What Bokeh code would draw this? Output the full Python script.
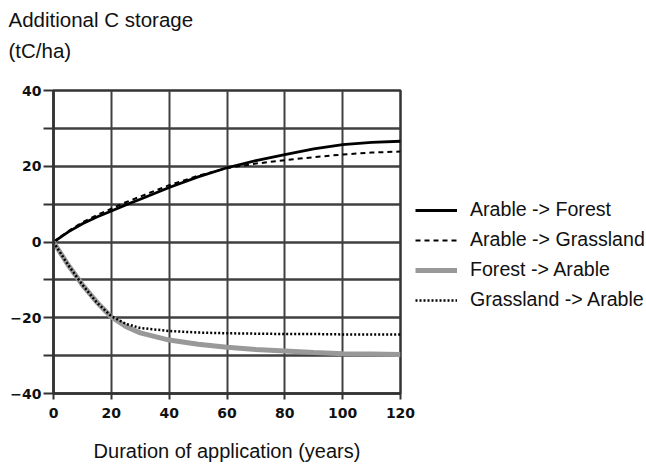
from bokeh.plotting import figure
from bokeh.models import FixedTicker, Legend, LegendItem, Range1d, Title
from bokeh.embed import file_html
from bokeh.resources import INLINE

# ---- data ----
years = [0, 5, 10, 15, 20, 25, 30, 40, 50, 60, 70, 80, 90, 100, 110, 120]
arable_forest = [0, 2.6, 4.8, 6.6, 8.2, 9.8, 11.3, 14.4, 17.2, 19.6, 21.5, 23.1, 24.6, 25.7, 26.3, 26.6]
arable_grass = [0, 2.8, 5.2, 7.1, 8.8, 10.5, 12.0, 15.0, 17.5, 19.5, 20.7, 21.6, 22.4, 23.1, 23.6, 23.9]
forest_arable = [0, -6.0, -11.3, -15.9, -19.8, -22.3, -24.0, -25.9, -27.0, -27.8, -28.4, -28.8, -29.2, -29.5, -29.6, -29.7]
grass_arable = [0, -6.0, -11.3, -16.0, -19.6, -21.6, -22.7, -23.5, -23.9, -24.1, -24.2, -24.3, -24.3, -24.4, -24.4, -24.4]
series_names = ["Arable -> Forest", "Arable -> Grassland", "Forest -> Arable", "Grassland -> Arable"]
x_ticks = [0, 20, 40, 60, 80, 100, 120]
y_ticks = [-40, -20, 0, 20, 40]
y_minor = [-30, -10, 10, 30]
y_title = ["Additional C storage", "(tC/ha)"]
x_title = "Duration of application (years)"

FONT = "Liberation Sans"
GRID = "#404040"
TXT = "#111111"

p = figure(frame_width=347, frame_height=303, output_backend="svg", toolbar_location=None,
           x_range=Range1d(0, 120), y_range=Range1d(-40, 40),
           min_border_left=53, min_border_right=240, min_border_top=90, min_border_bottom=73,
           background_fill_color="white", border_fill_color="white")
p.outline_line_color = "#333333"
p.outline_line_width = 2.5

# axes
p.xaxis.ticker = FixedTicker(ticks=x_ticks)
p.yaxis.ticker = FixedTicker(ticks=y_ticks, minor_ticks=y_minor)
for ax in (p.xaxis, p.yaxis):
    ax.axis_line_color = "#333333"
    ax.axis_line_width = 2.5
    ax.major_tick_line_color = "#333333"
    ax.major_tick_line_width = 2
    ax.major_tick_in = 0
    ax.major_label_text_font = "DejaVu Sans"
    ax.major_label_text_font_style = "bold"
    ax.major_label_text_font_size = "14px"
    ax.major_label_text_color = TXT
p.xaxis.major_tick_out = 6
p.xaxis.major_label_standoff = 8
p.xaxis.minor_tick_line_color = None
p.yaxis.major_tick_out = 10
p.yaxis.minor_tick_out = 10
p.yaxis.minor_tick_in = 0
p.yaxis.minor_tick_line_color = "#333333"
p.yaxis.minor_tick_line_width = 2
p.yaxis.major_label_standoff = 2

p.xaxis.axis_label = x_title
p.xaxis.axis_label_text_font = FONT
p.xaxis.axis_label_text_font_style = "normal"
p.xaxis.axis_label_text_font_size = "20px"
p.xaxis.axis_label_text_color = TXT
p.xaxis.axis_label_standoff = 19

# grid
p.xgrid.grid_line_color = GRID
p.xgrid.grid_line_width = 2
p.ygrid.grid_line_color = GRID
p.ygrid.grid_line_width = 2.5
p.ygrid.minor_grid_line_color = GRID
p.ygrid.minor_grid_line_width = 2.5

# lines
r1 = p.line(years, arable_forest, line_color="black", line_width=2.8)
r2 = p.line(years, arable_grass, line_color="black", line_width=2, line_dash="5 4")
r3 = p.line(years, forest_arable, line_color="#999999", line_width=5)
r4 = p.line(years, grass_arable, line_color="black", line_width=2.5, line_dash="2 2")

legend = Legend(items=[LegendItem(label=n, renderers=[r]) for n, r in zip(series_names, [r1, r2, r3, r4])],
                location=(15, 82), padding=0, margin=0, border_line_color=None,
                background_fill_alpha=0, glyph_width=42, glyph_height=20, label_height=20,
                label_standoff=13, spacing=7, label_text_font=FONT,
                label_text_font_size="19.6px", label_text_color=TXT)
p.add_layout(legend, "right")

# y title lines above the frame (nearest first)
p.add_layout(Title(text=y_title[1], align="left", offset=-45, standoff=57, text_font=FONT,
                   text_font_size="20.5px", text_font_style="normal", text_color=TXT), "above")
p.add_layout(Title(text=y_title[0], align="left", offset=-45, standoff=-44, text_font=FONT,
                   text_font_size="20.5px", text_font_style="normal", text_color=TXT), "above")

open("out.html", "w").write(file_html(p, INLINE))
